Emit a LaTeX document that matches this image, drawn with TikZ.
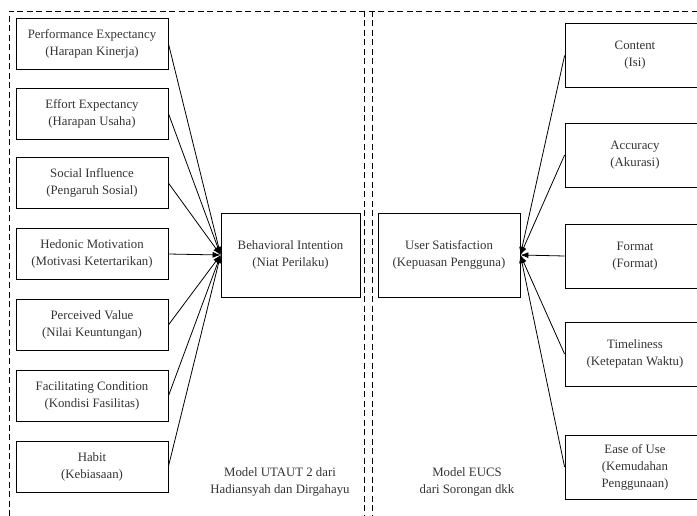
\documentclass[tikz,border=0pt]{standalone}
\usepackage{fontspec}
\setmainfont{Liberation Serif}
\usetikzlibrary{arrows.meta}

\begin{document}
\begin{tikzpicture}[x=1pt,y=-1pt,
  factor/.style={draw,line width=0.8pt,align=center,inner sep=0pt,text=black!80,font=\fontsize{12.8}{17}\selectfont},
  leftbox/.style={factor,minimum width=152pt,minimum height=51pt},
  rightbox/.style={factor,minimum width=140pt,minimum height=64pt},
  mainbox/.style={factor,minimum height=84pt},
  link/.style={-{Latex[length=8pt,width=6pt]},line width=0.8pt},
  frame/.style={line width=0.6pt,dash pattern=on 6pt off 3.5pt},
  caption/.style={align=center,text=black!80,font=\fontsize{12.8}{17}\selectfont}]

\useasboundingbox (0,0) rectangle (697,516);

% model frames
\draw [frame] (9,516) -- (9,11) -- (700,11);
\draw [frame] (364,11) -- (364,516);
\draw [frame] (372,11) -- (372,516);

% UTAUT 2 factors
\node (PE) at (92,43.5)[leftbox] {Performance Expectancy\\(Harapan Kinerja)};
\node (EE) at (92,113.5)[leftbox] {Effort Expectancy\\(Harapan Usaha)};
\node (SI) at (92,183)[leftbox] {Social Influence\\(Pengaruh Sosial)};
\node (HM) at (92,254)[leftbox] {Hedonic Motivation\\(Motivasi Ketertarikan)};
\node (PV) at (92,325)[leftbox] {Perceived Value\\(Nilai Keuntungan)};
\node (FC) at (92,396)[leftbox] {Facilitating Condition\\(Kondisi Fasilitas)};
\node (HB) at (92,466.5)[leftbox] {Habit\\(Kebiasaan)};

\node (BI) at (290.5,255)[mainbox,minimum width=139pt] {Behavioral Intention\\(Niat Perilaku)};

% EUCS factors
\node (US) at (449,255)[mainbox,minimum width=142pt] {User Satisfaction\\(Kepuasan Pengguna)};

\node (CO) at (635,55.5)[rightbox] {Content\\(Isi)};
\node (AC) at (635,155)[rightbox] {Accuracy\\(Akurasi)};
\node (FO) at (635,256)[rightbox] {Format\\(Format)};
\node (TI) at (635,354)[rightbox] {Timeliness\\(Ketepatan Waktu)};
\node (EU) at (635,467)[rightbox] {Ease of Use\\(Kemudahan\\Penggunaan)};

\draw [link] (PE.east) -- (BI.west);
\draw [link] (EE.east) -- (BI.west);
\draw [link] (SI.east) -- (BI.west);
\draw [link] (HM.east) -- (BI.west);
\draw [link] (PV.east) -- (BI.west);
\draw [link] (FC.east) -- (BI.west);
\draw [link] (HB.east) -- (BI.west);

\draw [link] (CO.west) -- (US.east);
\draw [link] (AC.west) -- (US.east);
\draw [link] (FO.west) -- (US.east);
\draw [link] (TI.west) -- (US.east);
\draw [link] (EU.west) -- (US.east);

\node (UT) at (280,481.5)[caption] {Model UTAUT 2 dari\\Hadiansyah dan Dirgahayu};
\node (EC) at (467,481.5)[caption] {Model EUCS\\dari Sorongan dkk};
\end{tikzpicture}
\end{document}
